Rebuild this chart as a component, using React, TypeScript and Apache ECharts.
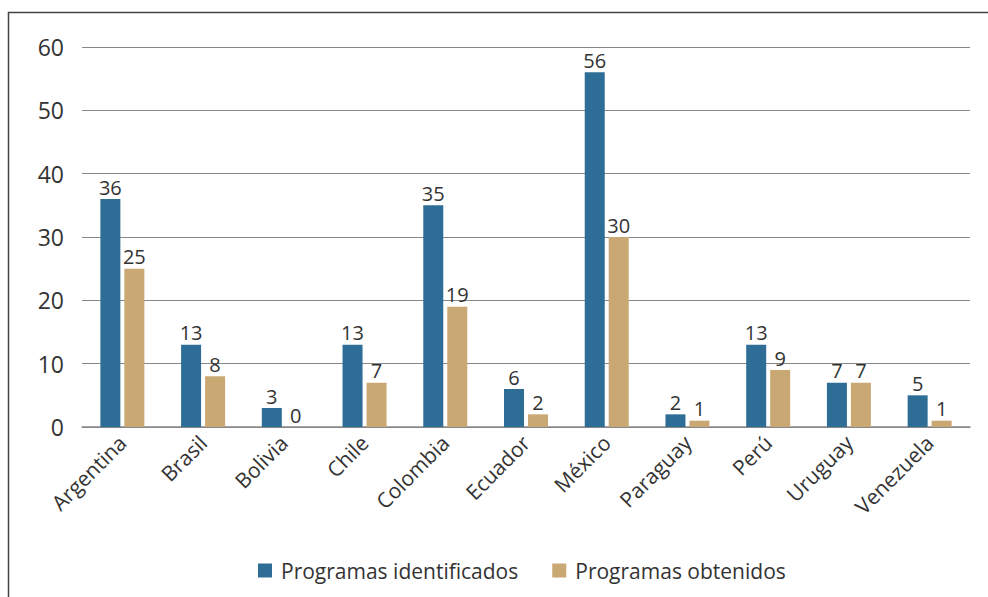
import React, { useEffect, useRef } from "react";
import * as echarts from "echarts";

const categories = ["Argentina", "Brasil", "Bolivia", "Chile", "Colombia", "Ecuador", "México", "Paraguay", "Perú", "Uruguay", "Venezuela"];
const identificados = [36, 13, 3, 13, 35, 6, 56, 2, 13, 7, 5];
const obtenidos = [25, 8, 0, 7, 19, 2, 30, 1, 9, 7, 1];
const seriesNames = ["Programas identificados", "Programas obtenidos"];
const yTicks = { min: 0, max: 60, interval: 10 };

const FONT = "'Open Sans', 'Noto Sans', sans-serif";

export default function App() {
  const ref = useRef<HTMLDivElement>(null);
  useEffect(() => {
    if (!ref.current) return;
    const chart = echarts.init(ref.current, null, { renderer: "svg" });
    const label = {
      show: true,
      position: "top" as const,
      distance: 2,
      color: "#333",
      fontSize: 20,
      fontFamily: FONT,
    };
    chart.setOption({
      animation: false,
      textStyle: { fontFamily: FONT },
      graphic: [
        {
          type: "rect",
          shape: { x: 8.5, y: 12.5, width: 1000, height: 700 },
          style: { fill: "none", stroke: "#444", lineWidth: 1.5 },
          silent: true,
        },
      ],
      grid: { left: 82, right: 18, top: 47, bottom: 170, containLabel: false },
      legend: {
        bottom: 11,
        left: 253,
        itemWidth: 14,
        itemHeight: 14,
        itemGap: 34,
        icon: "rect",
        textStyle: { fontSize: 21, color: "#333", fontFamily: FONT, padding: [0, 0, 0, 4] },
        data: seriesNames,
      },
      xAxis: {
        type: "category",
        data: categories,
        axisLine: { lineStyle: { color: "#888", width: 1.5 } },
        axisTick: { show: false },
        axisLabel: {
          rotate: 45,
          fontSize: 21,
          color: "#333",
          margin: 12,
          fontFamily: FONT,
          interval: 0,
        },
      },
      yAxis: {
        type: "value",
        min: yTicks.min,
        max: yTicks.max,
        interval: yTicks.interval,
        axisLine: { show: false },
        axisTick: { show: false },
        axisLabel: { fontSize: 23, color: "#333", margin: 18, fontFamily: FONT },
        splitLine: { lineStyle: { color: "#888", width: 1.2 } },
      },
      series: [
        {
          name: seriesNames[0],
          type: "bar",
          data: identificados,
          barWidth: 20,
          barGap: "20%",
          itemStyle: { color: "#2e6e96" },
          label,
        },
        {
          name: seriesNames[1],
          type: "bar",
          data: obtenidos,
          barWidth: 20,
          itemStyle: { color: "#c9a874" },
          label,
        },
      ],
    });
    return () => chart.dispose();
  }, []);
  return (
    <div
      ref={ref}
      style={{ position: "fixed", left: 0, top: 0, width: 988, height: 597, background: "#fff" }}
    />
  );
}
